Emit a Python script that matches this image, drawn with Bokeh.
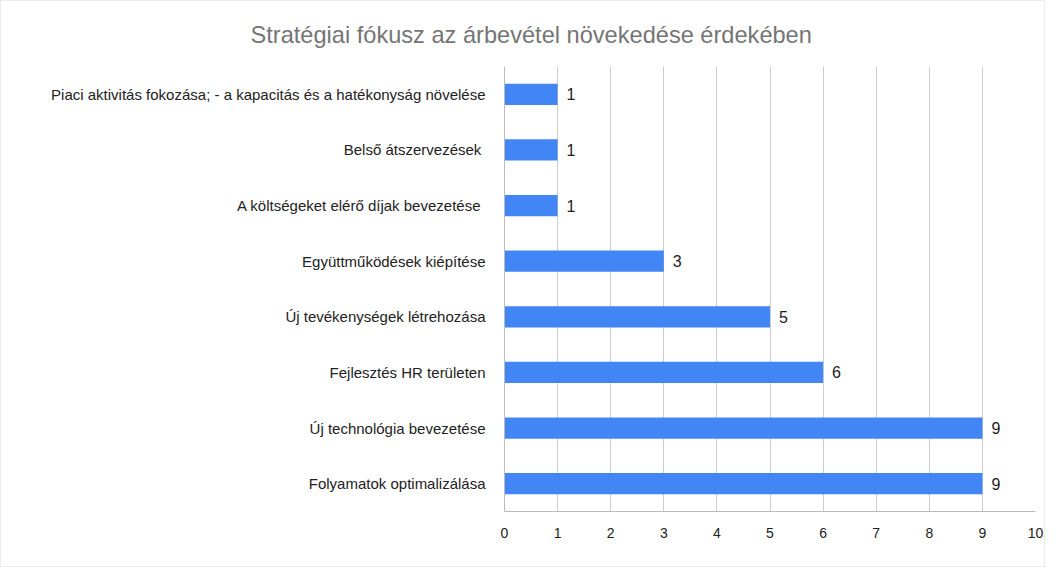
from bokeh.plotting import figure
from bokeh.models import FactorRange, Range1d, FixedTicker, ColumnDataSource, Title
from bokeh.core.properties import value
from bokeh.embed import file_html
from bokeh.resources import INLINE

categories = [
    "Piaci aktivitás fokozása; - a kapacitás és a hatékonyság növelése",
    "Belső átszervezések ",
    "A költségeket elérő díjak bevezetése ",
    "Együttműködések kiépítése",
    "Új tevékenységek létrehozása",
    "Fejlesztés HR területen",
    "Új technológia bevezetése",
    "Folyamatok optimalizálása",
]
values = [1, 1, 1, 3, 5, 6, 9, 9]
x_ticks = [0, 1, 2, 3, 4, 5, 6, 7, 8, 9, 10]
title_text = "Stratégiai fókusz az árbevétel növekedése érdekében"

FONT = "Liberation Sans"

src = ColumnDataSource(dict(cat=categories, val=values, lbl=[str(v) for v in values]))

p = figure(
    width=1045, height=567,
    y_range=FactorRange(factors=list(reversed(categories))),
    x_range=Range1d(0, 10),
    output_backend="svg", toolbar_location=None,
    min_border_left=503, min_border_right=11, min_border_top=65, min_border_bottom=57,
)
p.styles = {"border": "1px solid #ebebeb"}

t = Title(text=title_text, align="left", offset=-254, standoff=37,
          text_font=FONT, text_font_size="23.6px", text_font_style="normal",
          text_color="#757575")
p.add_layout(t, "above")

p.hbar(y="cat", right="val", left=0, height=0.38, source=src,
       fill_color="#4285F4", line_color=None)
p.text(x="val", y="cat", text="lbl", source=src, x_offset=9,
       text_baseline="middle", text_align="left",
       text_font=value(FONT), text_font_size="16px", text_color="#222222")

p.outline_line_color = None
p.ygrid.grid_line_color = None
p.xgrid.grid_line_color = "#cccccc"
p.xaxis.ticker = FixedTicker(ticks=x_ticks)
p.xaxis.axis_line_color = "#bbbbbb"
p.xaxis.major_tick_line_color = None
p.xaxis.minor_tick_line_color = None
p.xaxis.major_label_text_font = FONT
p.xaxis.major_label_text_font_size = "14px"
p.xaxis.major_label_text_color = "#222222"
p.xaxis.major_label_standoff = 10

p.yaxis.axis_line_color = "#bbbbbb"
p.yaxis.major_tick_line_color = None
p.yaxis.minor_tick_line_color = None
p.yaxis.major_label_text_font = FONT
p.yaxis.major_label_text_font_size = "15px"
p.yaxis.major_label_text_color = "#222222"
p.yaxis.major_label_standoff = 13

open("out.html", "w").write(file_html(p, INLINE))
